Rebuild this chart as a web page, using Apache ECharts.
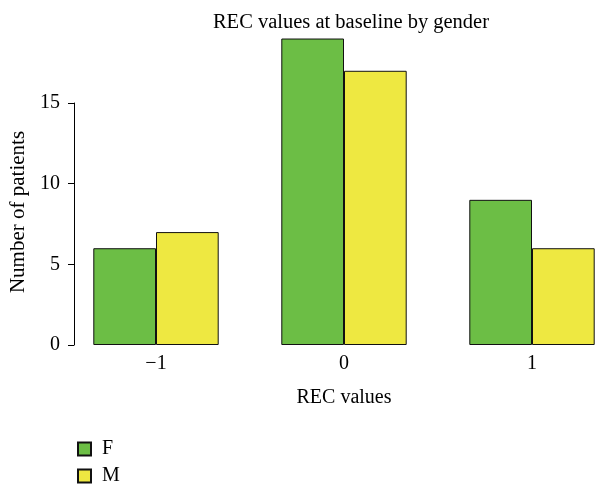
<!DOCTYPE html>
<html>
<head>
<meta charset="utf-8">
<script src="https://cdn.jsdelivr.net/npm/echarts@6/dist/echarts.min.js"></script>
<style>
  html, body { margin: 0; padding: 0; background: #fff; }
  #chart { width: 596px; height: 487px; }
</style>
</head>
<body>
<div id="chart"></div>
<script>
// REC score categories and patient counts by gender
const categories = ['\u22121', '0', '1'];
const femaleCounts = [6, 19, 9];
const maleCounts = [7, 17, 6];
const yTicks = [0, 5, 10, 15];

const FONT = 'Liberation Serif';
const GREEN = '#6CBE45';
const YELLOW = '#EEE841';
const BAR_W = 62.7;

const chart = echarts.init(document.getElementById('chart'));

chart.setOption({
  animation: false,
  backgroundColor: '#fff',
  textStyle: { fontFamily: FONT, color: '#000' },
  title: {
    text: 'REC values at baseline by gender',
    left: 346,
    textAlign: 'center',
    top: 7,
    textStyle: { fontFamily: FONT, fontSize: 20.5, fontWeight: 'normal', color: '#000' }
  },
  legend: {
    orient: 'vertical',
    left: 77,
    top: 439,
    padding: 0,
    itemWidth: 13,
    itemHeight: 13,
    itemGap: 7,
    icon: 'rect',
    textStyle: { fontFamily: FONT, fontSize: 20, color: '#000', padding: [0, 0, 0, 6] },
    data: ['F', 'M']
  },
  grid: [
    // data area: 0..20 maps onto the bars, categories sit on tick positions
    { left: 156, right: 64, top: 22.4, bottom: 142 },
    // axis area: shows the 0..15 ruler
    { left: 72, right: 20, top: 103, bottom: 142 }
  ],
  xAxis: [
    {
      gridIndex: 0,
      type: 'category',
      boundaryGap: false,
      data: categories,
      axisLine: { show: false },
      axisTick: { show: false },
      splitLine: { show: false },
      axisLabel: { fontFamily: FONT, fontSize: 20, color: '#000', margin: 9 },
      name: 'REC values',
      nameLocation: 'middle',
      nameGap: 43,
      nameTextStyle: { fontFamily: FONT, fontSize: 20, color: '#000' }
    },
    { gridIndex: 1, type: 'value', show: false }
  ],
  yAxis: [
    { gridIndex: 0, type: 'value', min: 0, max: 20, show: false },
    {
      gridIndex: 1,
      type: 'value',
      min: yTicks[0],
      max: yTicks[yTicks.length - 1],
      interval: 5,
      splitLine: { show: false },
      axisLine: { show: true, lineStyle: { color: '#000', width: 1 } },
      axisTick: { show: true, length: 6, lineStyle: { color: '#000' } },
      axisLabel: { fontFamily: FONT, fontSize: 20, color: '#000', margin: 14 },
      name: 'Number of patients',
      nameLocation: 'middle',
      nameRotate: 90,
      nameGap: 45,
      nameTextStyle: { fontFamily: FONT, fontSize: 21, color: '#000', padding: [0, 0, 0, 24] }
    }
  ],
  series: [
    {
      name: 'F',
      type: 'bar',
      xAxisIndex: 0,
      yAxisIndex: 0,
      data: femaleCounts,
      barWidth: BAR_W,
      barGap: '0%',
      clip: false,
      itemStyle: { color: GREEN, borderColor: '#111', borderWidth: 1 }
    },
    {
      name: 'M',
      type: 'bar',
      xAxisIndex: 0,
      yAxisIndex: 0,
      data: maleCounts,
      barWidth: BAR_W,
      barGap: '0%',
      clip: false,
      itemStyle: { color: YELLOW, borderColor: '#111', borderWidth: 1 }
    }
  ]
});
</script>
</body>
</html>
